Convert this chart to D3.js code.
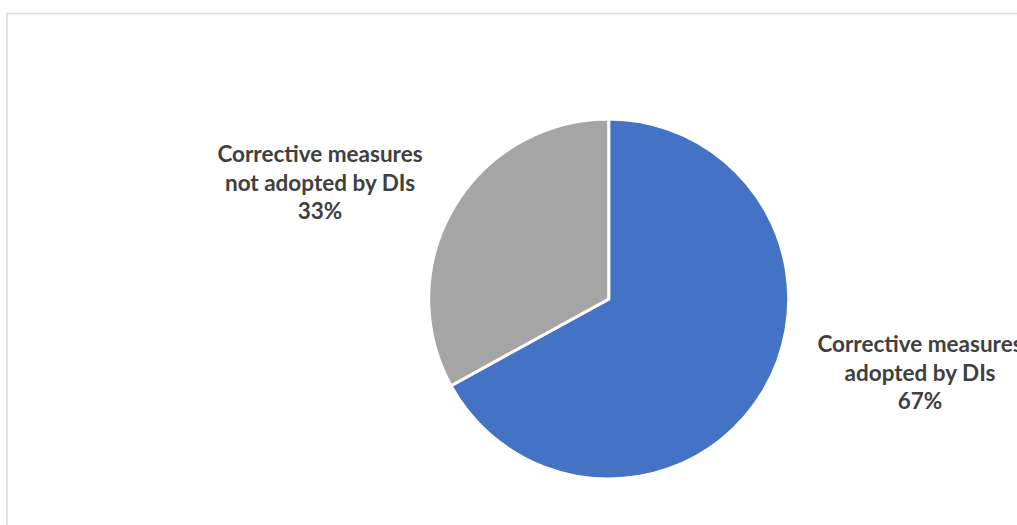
<!DOCTYPE html>
<html>
<head>
<meta charset="utf-8">
<script src="https://cdn.jsdelivr.net/npm/d3@7"></script>
<style>
  html, body { margin: 0; padding: 0; background: #fff; }
  svg { display: block; }
</style>
</head>
<body>
<svg id="chart" width="1017" height="525"></svg>
<script>
const categories = ["Corrective measures adopted by DIs", "Corrective measures not adopted by DIs"];
const labelLines = [["Corrective measures", "adopted by DIs"], ["Corrective measures", "not adopted by DIs"]];
const values = [67, 33];
const colors = ["#4472C4", "#A5A5A5"];

const svg = d3.select("#chart");
const W = 1017, H = 525;

// chart area border (extends beyond right/bottom edge)
svg.append("rect")
  .attr("x", 7).attr("y", 13.5)
  .attr("width", 1030).attr("height", 540)
  .attr("fill", "#fff")
  .attr("stroke", "#d9d9d9").attr("stroke-width", 1.5);

const cx = 608.7, cy = 299, r = 180;
const pie = d3.pie().sort(null).value(d => d.value);
const arc = d3.arc().innerRadius(0).outerRadius(r);
const data = categories.map((c, i) => ({ name: c, value: values[i], color: colors[i], lines: labelLines[i] }));
const arcs = pie(data);

const g = svg.append("g").attr("transform", `translate(${cx},${cy})`);
g.selectAll("path").data(arcs).join("path")
  .attr("d", arc)
  .attr("fill", d => d.data.color)
  .attr("stroke", "#fff")
  .attr("stroke-width", 3)
  .attr("stroke-linejoin", "miter");

// label positions (outside end)
const labelPos = [
  { x: 920, y: 352 },
  { x: 320, y: 162 }
];
const total = d3.sum(values);
const fmt = d3.format(".0%");
const lh = 28.5;

arcs.forEach((a, i) => {
  const t = svg.append("text")
    .attr("x", labelPos[i].x).attr("y", labelPos[i].y)
    .attr("text-anchor", "middle")
    .attr("font-family", "Lato, 'Open Sans', sans-serif")
    .attr("font-weight", "bold")
    .attr("font-size", 22.5)
    .attr("fill", "#404040");
  const lines = a.data.lines.concat([fmt(a.data.value / total)]);
  lines.forEach((ln, j) => {
    t.append("tspan").attr("x", labelPos[i].x).attr("y", labelPos[i].y + j * lh).text(ln);
  });
});
</script>
</body>
</html>
